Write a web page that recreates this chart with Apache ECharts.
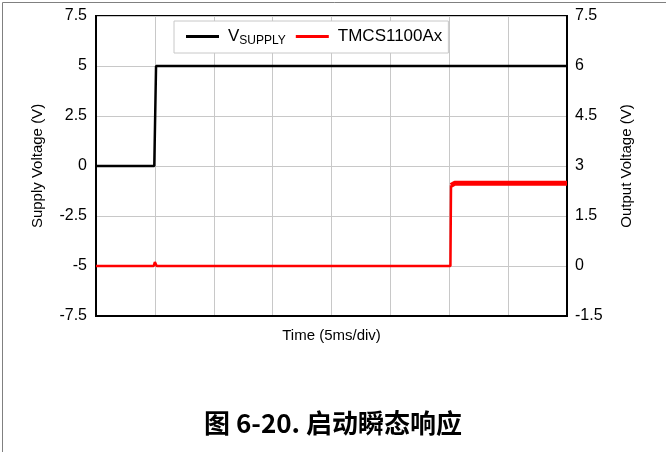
<!DOCTYPE html>
<html><head><meta charset="utf-8">
<script src="https://cdn.jsdelivr.net/npm/echarts@6/dist/echarts.min.js"></script>
<style>html,body{margin:0;padding:0;background:#fff}#c{width:666px;height:452px}</style>
</head><body><div id="c"></div>
<script>
// time in divisions (5 ms/div)
const supplyTime = [0, 0.99, 1.02, 8];
const supplyVolt = [0, 0, 5.0, 5.0];
const outPreTime = [0, 0.98, 1.0, 1.03, 6.02, 6.03];
const outPreVolt = [0, 0, 0.12, 0, 0, 2.42];
const outPostTime = [6.03, 6.09, 8];
const outPostVolt = [2.42, 2.48, 2.48];
const leftTicks = [-7.5, 7.5, 2.5];
const rightTicks = [-1.5, 7.5, 1.5];

const zip = (a, b) => a.map((v, i) => [v, b[i]]);
const chart = echarts.init(document.getElementById('c'));
const font = 'Liberation Sans, Arial, sans-serif';
chart.setOption({
  animation: false,
  backgroundColor: '#fff',
  grid: {left: 96, right: 99, top: 16, bottom: 136, show: true, borderColor: '#000', borderWidth: 2, backgroundColor: 'transparent'},
  legend: {
    top: 21, left: 174, itemWidth: 33, itemHeight: 3, itemGap: 10,
    padding: [7, 6, 6, 12],
    borderColor: '#c8c8c8', borderWidth: 1, backgroundColor: '#fff',
    data: ['VSUPPLY', 'TMCS1100Ax'],
    icon: 'rect',
    formatter: n => n === 'VSUPPLY' ? '{a|V}{b|SUPPLY}' : '{a|' + n + '}',
    textStyle: {
      rich: {
        a: {fontFamily: font, fontSize: 17, color: '#000', padding: [0, 0, 0, 4]},
        b: {fontFamily: font, fontSize: 12, color: '#000', padding: [9, 0, 0, 0]}
      }
    }
  },
  xAxis: {
    type: 'value', min: 0, max: 8, interval: 1,
    name: 'Time (5ms/div)', nameLocation: 'middle', nameGap: 12,
    nameTextStyle: {fontFamily: font, fontSize: 15, color: '#000'},
    axisLabel: {show: false}, axisTick: {show: false},
    axisLine: {onZero: false, lineStyle: {color: '#000', width: 2}},
    splitLine: {lineStyle: {color: '#c8c8c8', width: 1}}
  },
  yAxis: [{
    type: 'value', min: leftTicks[0], max: leftTicks[1], interval: leftTicks[2],
    name: 'Supply Voltage (V)', nameLocation: 'middle', nameGap: 51, nameRotate: 90,
    nameTextStyle: {fontFamily: font, fontSize: 15, color: '#000'},
    axisLabel: {fontFamily: font, fontSize: 16, color: '#000', margin: 9},
    axisTick: {show: false},
    axisLine: {show: true, onZero: false, lineStyle: {color: '#000', width: 2}},
    splitLine: {lineStyle: {color: '#c8c8c8', width: 1}}
  }, {
    type: 'value', min: rightTicks[0], max: rightTicks[1], interval: rightTicks[2],
    position: 'right',
    name: 'Output Voltage (V)', nameLocation: 'middle', nameGap: 52, nameRotate: 90,
    nameTextStyle: {fontFamily: font, fontSize: 15, color: '#000'},
    axisLabel: {fontFamily: font, fontSize: 16, color: '#000', margin: 8},
    axisTick: {show: false},
    axisLine: {show: true, onZero: false, lineStyle: {color: '#000', width: 2}},
    splitLine: {show: false}
  }],
  series: [{
    name: 'VSUPPLY', type: 'line', yAxisIndex: 0, showSymbol: false,
    data: zip(supplyTime, supplyVolt), color: '#000',
    lineStyle: {color: '#000', width: 2.5}
  }, {
    name: 'TMCS1100Ax', type: 'line', yAxisIndex: 1, showSymbol: false,
    data: zip(outPreTime, outPreVolt), color: '#ff0000',
    lineStyle: {color: '#ff0000', width: 2.5}
  }, {
    name: 'TMCS1100Ax', type: 'line', yAxisIndex: 1, showSymbol: false,
    data: zip(outPostTime, outPostVolt), color: '#ff0000',
    lineStyle: {color: '#ff0000', width: 5}
  }],
  graphic: [{
    type: 'rect', left: 0, top: 0, silent: true,
    shape: {x: 0.5, y: 0.5, width: 665, height: 460},
    style: {fill: 'none', stroke: '#808080', lineWidth: 1}
  }, {
    type: 'text', left: 'center', top: 410,
    style: {text: '图 6-20. 启动瞬态响应', font: 'bold 26px "Noto Sans CJK SC", sans-serif', fill: '#000'}
  }]
});
</script></body></html>
